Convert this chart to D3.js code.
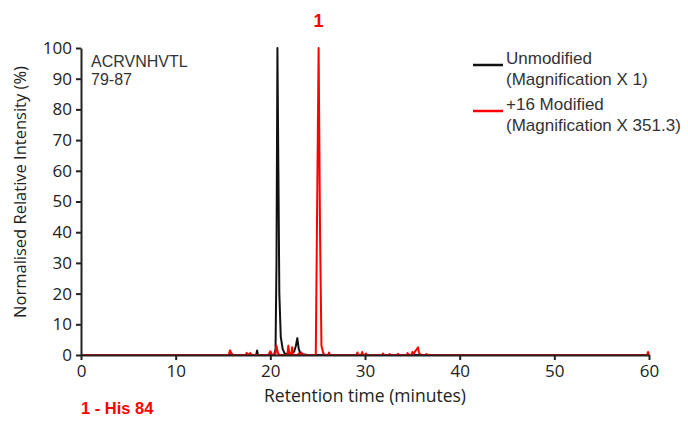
<!DOCTYPE html>
<html>
<head>
<meta charset="utf-8">
<script src="https://cdn.jsdelivr.net/npm/d3@7"></script>
<style>
  body { margin: 0; background: #fff; }
  svg { display: block; }
</style>
</head>
<body>
<div id="chart"></div>
<script>
// Retention time (min) vs normalised intensity (%)
const unmodifiedTrace = [
    [0, 0], [15, 0], [18.5, 0], [18.6, 1.5], [18.7, 0], [20.4, 0], [20.55, 2], [20.65, 30],
    [20.75, 100], [20.85, 60], [20.95, 20], [21.1, 6], [21.3, 2], [21.5, 0.5], [22.0, 0.3],
    [22.5, 1], [22.7, 3], [22.85, 5.5], [23.0, 2], [23.2, 0.3], [24, 0], [60, 0]
];

const modifiedTrace = [
    [0, 0], [15.6, 0], [15.75, 1.5], [15.9, 0.5], [16.1, 0], [17.4, 0], [17.5, 0.7], [17.6, 0],
    [17.9, 0.6], [18.0, 0], [19.8, 0], [20.0, 1.2], [20.2, 0], [20.5, 0], [20.65, 3], [20.8, 0.5],
    [21.0, 0], [21.8, 0], [21.9, 3], [22.0, 0.5], [22.2, 0], [22.3, 2.5], [22.4, 0], [22.9, 0],
    [23.0, 0.5], [23.1, 0], [23.2, 0], [23.3, 0.8], [23.4, 0], [24.8, 0], [24.95, 50], [25.1, 100],
    [25.25, 40], [25.4, 3], [25.6, 0.5], [25.8, 0], [26.1, 0], [26.2, 0.8], [26.3, 0], [29.1, 0],
    [29.2, 0.8], [29.3, 0], [29.6, 0], [29.7, 1], [29.8, 0], [30.0, 0], [30.1, 0.5], [30.2, 0],
    [31.8, 0], [31.9, 0.5], [32.0, 0], [32.5, 0], [32.6, 0.3], [32.7, 0], [33.4, 0], [33.5, 0.4],
    [33.6, 0], [34.4, 0], [34.5, 0.6], [34.6, 0], [34.9, 0], [35.0, 1], [35.1, 0.3], [35.3, 1.2],
    [35.5, 2], [35.6, 2.5], [35.7, 0.8], [35.9, 0], [36.4, 0], [36.5, 0.3], [36.6, 0], [59.8, 0],
    [59.9, 1], [60, 0]
];

const xTicks = [0, 10, 20, 30, 40, 50, 60];
const yTicks = [0, 10, 20, 30, 40, 50, 60, 70, 80, 90, 100];

const legendItems = [
    { lines: ['Unmodified', '(Magnification X 1)'], color: '#111' },
    { lines: ['+16 Modified', '(Magnification X 351.3)'], color: '#ff0000' }
];

const peakLabel = { time: 25.1, text: '1' };
const peptide = ['ACRVNHVTL', '79-87'];
const footnote = '1 - His 84';

const width = 688, height = 437;
const margin = { top: 48, right: 39, bottom: 82, left: 81 };

const svg = d3.select('#chart')
    .append('svg')
    .attr('width', width)
    .attr('height', height);

const x = d3.scaleLinear().domain([0, 60]).range([margin.left, width - margin.right]);
const y = d3.scaleLinear().domain([0, 100]).range([height - margin.bottom, margin.top]);

const line = d3.line().x(d => x(d[0])).y(d => y(d[1]));

// Traces (black first, red on top)
svg.append('path')
    .datum(unmodifiedTrace)
    .attr('fill', 'none')
    .attr('stroke', '#111')
    .attr('stroke-width', 2)
    .attr('stroke-linejoin', 'round')
    .attr('d', line);

svg.append('path')
    .datum(modifiedTrace)
    .attr('fill', 'none')
    .attr('stroke', '#ff0000')
    .attr('stroke-width', 2)
    .attr('stroke-linejoin', 'round')
    .attr('d', line);

// Axes drawn over the traces' baselines
const axisFont = "'Open Sans', 'DejaVu Sans', sans-serif";

const xAxis = svg.append('g')
    .attr('transform', `translate(0,${y(0)})`)
    .call(d3.axisBottom(x).tickValues(xTicks).tickSize(5).tickSizeOuter(0).tickPadding(5));

const yAxis = svg.append('g')
    .attr('transform', `translate(${x(0)},0)`)
    .call(d3.axisLeft(y).tickValues(yTicks).tickSize(5).tickSizeOuter(0).tickPadding(4));

[xAxis, yAxis].forEach(a => {
    a.select('.domain').attr('stroke', '#222').attr('stroke-width', 2);
    a.selectAll('.tick line').attr('stroke', '#222').attr('stroke-width', 2);
    a.selectAll('.tick text')
        .attr('fill', '#222')
        .style('font-family', axisFont)
        .style('font-size', '17px');
});

// Axis titles
svg.append('text')
    .attr('x', (x(0) + x(60)) / 2)
    .attr('y', 402)
    .attr('text-anchor', 'middle')
    .attr('fill', '#222')
    .style('font-family', axisFont)
    .style('font-size', '17.5px')
    .text('Retention time (minutes)');

svg.append('text')
    .attr('transform', 'translate(26,192) rotate(-90)')
    .attr('text-anchor', 'middle')
    .attr('fill', '#222')
    .style('font-family', axisFont)
    .style('font-size', '16.5px')
    .text('Normalised Relative Intensity (%)');

// Peptide annotation
const textFont = "'Liberation Sans', Arial, sans-serif";
peptide.forEach((t, i) => {
    svg.append('text')
        .attr('x', 91)
        .attr('y', 67 + i * 18)
        .attr('fill', '#333')
        .style('font-family', textFont)
        .style('font-size', '16px')
        .text(t);
});

// Peak label
svg.append('text')
    .attr('x', x(peakLabel.time))
    .attr('y', 27)
    .attr('text-anchor', 'middle')
    .attr('fill', '#ff0000')
    .style('font-family', textFont)
    .style('font-size', '18px')
    .style('font-weight', 'bold')
    .text(peakLabel.text);

// Legend
const legend = svg.append('g').attr('transform', 'translate(473,0)');
legendItems.forEach((item, i) => {
    const gy = 65 + i * 46;
    legend.append('line')
        .attr('x1', 0).attr('x2', 30)
        .attr('y1', gy).attr('y2', gy)
        .attr('stroke', item.color)
        .attr('stroke-width', 2.5);
    item.lines.forEach((t, j) => {
        legend.append('text')
            .attr('x', 33)
            .attr('y', gy - 1 + j * 21)
            .attr('fill', '#333')
            .style('font-family', textFont)
            .style('font-size', '17px')
            .text(t);
    });
});

// Footnote
svg.append('text')
    .attr('x', 81)
    .attr('y', 414)
    .attr('fill', '#ff0000')
    .style('font-family', textFont)
    .style('font-size', '16.5px')
    .style('font-weight', 'bold')
    .text(footnote);
</script>
</body>
</html>
